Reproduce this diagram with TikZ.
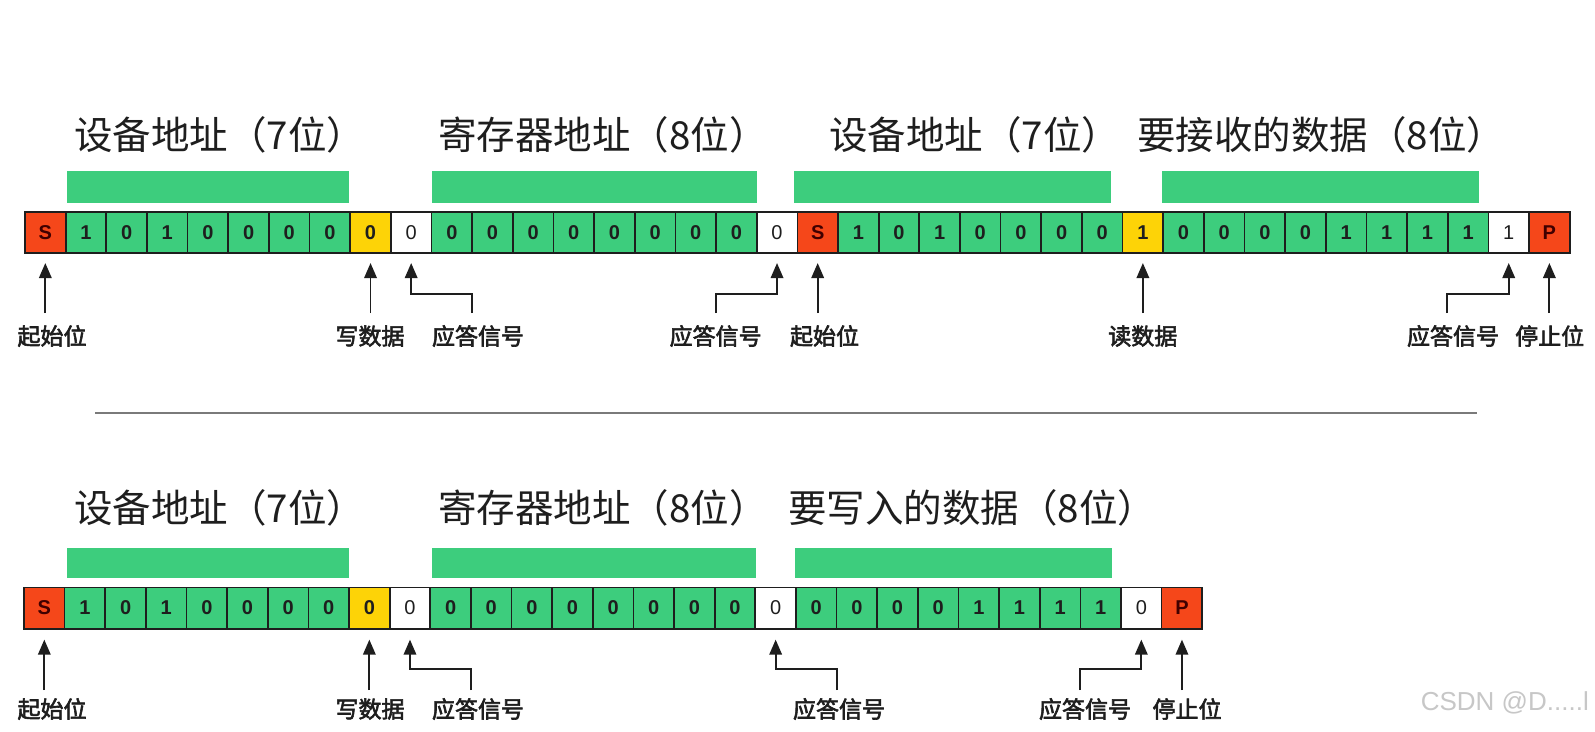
\documentclass[tikz,border=0pt]{standalone}
\usepackage{fontspec}
\newfontfamily\cjk{Noto Sans CJK SC}
\newfontfamily\cjkb{Noto Sans CJK SC}[FakeBold=2.5]
\newfontfamily\lsans{Liberation Sans}
\usetikzlibrary{arrows.meta}
\definecolor{cred}{HTML}{F5471A}
\definecolor{cgrn}{HTML}{3DCD7D}
\definecolor{cyel}{HTML}{FDD307}
\definecolor{ink}{HTML}{1E1E1E}
\definecolor{sep}{HTML}{7A7A7A}
\begin{document}
\begin{tikzpicture}[x=1pt,y=-1pt,
  cell/.style={draw=ink, line width=1.7pt, minimum width=40.65pt, minimum height=41.3pt,
    inner sep=0pt, outer sep=0pt, font=\lsans\bfseries\fontsize{20}{20}\selectfont, text=ink},
  rc/.style={fill=cred, text=black!75!red},
  gc/.style={fill=cgrn},
  yc/.style={fill=cyel},
  wc/.style={fill=white, font=\lsans\fontsize{20}{20}\selectfont},
  bar/.style={fill=cgrn},
  title/.style={anchor=west, inner sep=0pt, text=ink, font=\cjk\fontsize{38.5}{38.5}\selectfont},
  lbl/.style={inner sep=0pt, text=ink, font=\cjkb\fontsize{23}{23}\selectfont},
  arr/.style={draw=ink, line width=1.8pt, -{Triangle[width=12.5pt,length=15pt]}},
]
\useasboundingbox[fill=white] (0,0) rectangle (1595,731);

% ---------- top row ----------
\node[title] (tt1) at (74,134.5) {设备地址（7位）};
\node[title] (tt2) at (438,134.5) {寄存器地址（8位）};
\node[title] (tt3) at (829,134.5) {设备地址（7位）};
\node[title] (tt4) at (1137,134.5) {要接收的数据（8位）};

\fill[bar] (66.7,171) rectangle (349.3,202.7);
\fill[bar] (431.7,171) rectangle (756.7,202.7);
\fill[bar] (794,171) rectangle (1111,202.7);
\fill[bar] (1161.6,171) rectangle (1479,202.7);

\foreach \t/\c [count=\i from 0] in {S/rc,1/gc,0/gc,1/gc,0/gc,0/gc,0/gc,0/gc,0/yc,0/wc,
  0/gc,0/gc,0/gc,0/gc,0/gc,0/gc,0/gc,0/gc,0/wc,S/rc,1/gc,0/gc,1/gc,0/gc,0/gc,0/gc,0/gc,1/yc,
  0/gc,0/gc,0/gc,0/gc,1/gc,1/gc,1/gc,1/gc,1/wc,P/rc}
  \node[cell,\c] (t\i) at ({25+(\i+0.5)*40.65},232.4) {\t};

\coordinate (tb) at (0,313);
\coordinate (tm) at (0,294);
\coordinate (k1) at (472,313);
\coordinate (k2) at (716,313);
\coordinate (k3) at (1447,313);

\draw[arr] (t0.south |- tb) -- ([yshift=-10pt]t0.south);
\draw[arr] (t8.south |- tb) -- ([yshift=-10pt]t8.south);
\draw[arr] (k1) -- (k1 |- tm) -| ([yshift=-10pt]t9.south);
\draw[arr] (k2) -- (k2 |- tm) -| ([yshift=-10pt]t18.south);
\draw[arr] (t19.south |- tb) -- ([yshift=-10pt]t19.south);
\draw[arr] (t27.south |- tb) -- ([yshift=-10pt]t27.south);
\draw[arr] (k3) -- (k3 |- tm) -| ([yshift=-10pt]t36.south);
\draw[arr] (t37.south |- tb) -- ([yshift=-10pt]t37.south);

\node[lbl] (l1) at (52,336) {起始位};
\node[lbl] (l2) at (370,336) {写数据};
\node[lbl] (l3) at (478,336) {应答信号};
\node[lbl] (l4) at (715.6,336) {应答信号};
\node[lbl] (l5) at (824.5,336) {起始位};
\node[lbl] (l6) at (1142.8,336) {读数据};
\node[lbl] (l7) at (1453,336) {应答信号};
\node[lbl] (l8) at (1549.7,336) {停止位};

% ---------- separator ----------
\coordinate (s1) at (95,413);
\coordinate (s2) at (1477,413);
\draw[sep, line width=2pt] (s1) -- (s2);

% ---------- bottom row ----------
\node[title] (bt1) at (74,508) {设备地址（7位）};
\node[title] (bt2) at (438,508) {寄存器地址（8位）};
\node[title] (bt3) at (788,508) {要写入的数据（8位）};

\fill[bar] (67,547.7) rectangle (349,578.3);
\fill[bar] (431.7,547.7) rectangle (756,578.3);
\fill[bar] (795,547.7) rectangle (1111.7,578.3);

\foreach \t/\c [count=\i from 0] in {S/rc,1/gc,0/gc,1/gc,0/gc,0/gc,0/gc,0/gc,0/yc,0/wc,
  0/gc,0/gc,0/gc,0/gc,0/gc,0/gc,0/gc,0/gc,0/wc,
  0/gc,0/gc,0/gc,0/gc,1/gc,1/gc,1/gc,1/gc,0/wc,P/rc}
  \node[cell,\c] (b\i) at ({24+(\i+0.5)*40.63},608) {\t};

\coordinate (bb) at (0,690);
\coordinate (bm) at (0,669);
\coordinate (m1) at (471,690);
\coordinate (m2) at (837,690);
\coordinate (m3) at (1080,690);

\draw[arr] (b0.south |- bb) -- ([yshift=-11pt]b0.south);
\draw[arr] (b8.south |- bb) -- ([yshift=-11pt]b8.south);
\draw[arr] (m1) -- (m1 |- bm) -| ([yshift=-11pt]b9.south);
\draw[arr] (m2) -- (m2 |- bm) -| ([yshift=-11pt]b18.south);
\draw[arr] (m3) -- (m3 |- bm) -| ([yshift=-11pt]b27.south);
\draw[arr] (b28.south |- bb) -- ([yshift=-11pt]b28.south);

\node[lbl] (n1) at (52,709) {起始位};
\node[lbl] (n2) at (370,709) {写数据};
\node[lbl] (n3) at (478,709) {应答信号};
\node[lbl] (n4) at (839,709) {应答信号};
\node[lbl] (n5) at (1085,709) {应答信号};
\node[lbl] (n6) at (1187,709) {停止位};

% watermark
\node[anchor=east, inner sep=0pt, text=black!22, font=\lsans\fontsize{26}{26}\selectfont] (wm) at (1589,703) {CSDN @D.....l};
\end{tikzpicture}
\end{document}
